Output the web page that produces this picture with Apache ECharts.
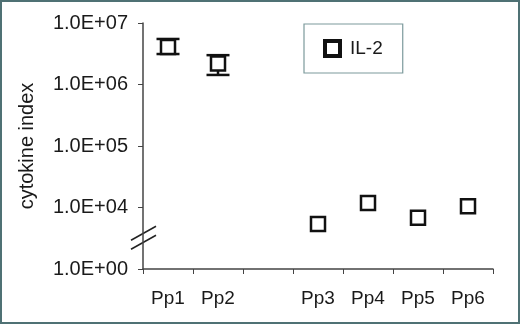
<!DOCTYPE html>
<html>
<head>
<meta charset="utf-8">
<script src="https://cdn.jsdelivr.net/npm/echarts@6/dist/echarts.min.js"></script>
<style>
html,body{margin:0;padding:0;background:#fff;}
#chart{width:520px;height:324px;}
</style>
</head>
<body>
<div id="chart"></div>
<script>
const categories = ['Pp1', 'Pp2', '', 'Pp3', 'Pp4', 'Pp5', 'Pp6'];
const il2 = [4.07e6, 2.19e6, '-', 5.4e3, 1.18e4, 6.8e3, 1.05e4];
const il2Upper = [5.5e6, 3.0e6, '-', '-', '-', '-', '-'];
const il2Lower = [3.13e6, 1.43e6, '-', '-', '-', '-', '-'];
const yTickLabels = {1e3: '1.0E+00', 1e4: '1.0E+04', 1e5: '1.0E+05', 1e6: '1.0E+06', 1e7: '1.0E+07'};
const breakValue = Math.pow(10, 3.5);

const errData = [];
categories.forEach((c, i) => {
  if (il2Upper[i] !== '-') errData.push([i, il2Lower[i], il2Upper[i]]);
});

const chart = echarts.init(document.getElementById('chart'));
const font = 'Liberation Sans, Arial, sans-serif';
chart.setOption({
  animation: false,
  backgroundColor: '#fff',
  grid: {left: 143, right: 27, top: 23, bottom: 55},
  legend: {
    data: ['IL-2'],
    left: 304, top: 24,
    padding: [15, 20, 15, 19],
    borderColor: '#7c9a9c', borderWidth: 1.2,
    itemWidth: 15, itemHeight: 15,
    itemStyle: {color: '#fff', borderColor: '#111', borderWidth: 4},
    textStyle: {fontFamily: font, fontSize: 19, color: '#1a1a1a', padding: [0, 0, 0, 5]}
  },
  xAxis: {
    type: 'category',
    data: categories,
    boundaryGap: true,
    axisLine: {lineStyle: {color: '#444', width: 1.5}},
    axisTick: {show: true, length: 5, alignWithLabel: false, lineStyle: {color: '#444'}},
    axisLabel: {fontFamily: font, fontSize: 19, color: '#1a1a1a', margin: 20, interval: 0}
  },
  yAxis: {
    type: 'log',
    logBase: 10,
    min: 1e3, max: 1e7,
    name: 'cytokine index',
    nameLocation: 'middle',
    nameGap: 106,
    nameTextStyle: {fontFamily: font, fontSize: 20, color: '#1a1a1a'},
    splitLine: {show: false},
    axisLine: {show: true, lineStyle: {color: '#444', width: 1.5}},
    axisTick: {show: true, length: 5, lineStyle: {color: '#444'}},
    minorTick: {show: false},
    axisLabel: {
      fontFamily: font, fontSize: 20, color: '#1a1a1a', margin: 15,
      formatter: v => yTickLabels[Math.round(v)] || ''
    }
  },
  series: [
    {
      type: 'custom',
      name: 'err',
      data: errData,
      z: 3,
      renderItem: (params, api) => {
        const x = api.value(0);
        const lo = api.coord([x, api.value(1)]);
        const hi = api.coord([x, api.value(2)]);
        const hw = 11.5;
        const st = {stroke: '#111', lineWidth: 2.5};
        return {
          type: 'group',
          children: [
            {type: 'line', shape: {x1: lo[0], y1: lo[1], x2: hi[0], y2: hi[1]}, style: st},
            {type: 'line', shape: {x1: lo[0] - hw, y1: lo[1], x2: lo[0] + hw, y2: lo[1]}, style: st},
            {type: 'line', shape: {x1: hi[0] - hw, y1: hi[1], x2: hi[0] + hw, y2: hi[1]}, style: st}
          ]
        };
      }
    },
    {
      type: 'scatter',
      name: 'IL-2',
      data: il2,
      symbol: 'rect',
      symbolSize: 14,
      z: 4,
      itemStyle: {color: '#fff', borderColor: '#111', borderWidth: 2.5, opacity: 1}
    }
  ]
});

function drawDecor() {
  const yb = chart.convertToPixel({yAxisIndex: 0}, breakValue);
  const xa = 143;
  chart.setOption({
    graphic: [
      {type: 'rect', shape: {x: 1, y: 1, width: 518, height: 322}, style: {fill: 'none', stroke: '#4f7174', lineWidth: 2}, silent: true},
      {type: 'line', shape: {x1: xa - 12, y1: yb + 2, x2: xa + 13, y2: yb - 12}, style: {stroke: '#222', lineWidth: 1.5}},
      {type: 'line', shape: {x1: xa - 12, y1: yb + 11, x2: xa + 13, y2: yb - 3}, style: {stroke: '#222', lineWidth: 1.5}}
    ]
  });
}
drawDecor();
</script>
</body>
</html>
